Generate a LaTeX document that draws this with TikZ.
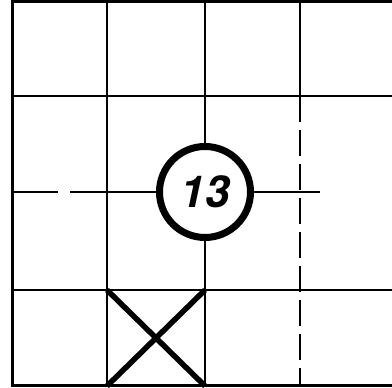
\documentclass[tikz,border=0pt]{standalone}
\usepackage{fontspec}
\setmainfont{TeX Gyre Heros}
\begin{document}
\begin{tikzpicture}[x=1pt,y=1pt,
  grid/.style={line width=2.4pt},
  border/.style={line width=3pt},
  dashline/.style={line width=2.4pt,dash pattern=on 26pt off 8pt},
  cross/.style={line width=5.5pt},
  num/.style={circle,draw,line width=7pt,minimum size=91pt,inner sep=0pt,font=\fontsize{44}{44}\selectfont\bfseries\itshape}]
\useasboundingbox (0,0) rectangle (392,388);
% coordinates (y flipped)
\coordinate (tl) at (12,386);
\coordinate (bl) at (12,2);
\coordinate (tr) at (392,386);
\coordinate (br) at (392,2);
\node[num] (c) at (205,196) {13};
% border
\draw[border] (tr) -- (tl) -- (bl) -- (br);
% horizontal lines
\coordinate (h1l) at (12,292); \coordinate (h1r) at (392,292);
\draw[grid] (h1l) -- (h1r);
\coordinate (h3l) at (12,98); \coordinate (h3r) at (392,98);
\draw[grid] (h3l) -- (h3r);
\coordinate (h2l) at (12,196); \coordinate (h2a) at (58,196); \coordinate (h2b) at (70,196);
\coordinate (h2r) at (320,196);
\draw[grid] (h2l) -- (h2a);
\draw[grid] (h2b) -- (c);
\draw[grid] (c) -- (h2r);
% vertical lines
\coordinate (v1t) at (107,386); \coordinate (v1b) at (107,2);
\draw[grid] (v1t) -- (v1b);
\coordinate (v2t) at (205,386); \coordinate (v2b) at (205,2);
\draw[grid] (v2t) -- (c);
\draw[grid] (c) -- (v2b);
\coordinate (v3t) at (300,386); \coordinate (v3m) at (300,292); \coordinate (v3b) at (300,2);
\draw[grid] (v3t) -- (v3m);
\draw[dashline] (v3m) -- (v3b);
% cross
\coordinate (x1) at (107,98); \coordinate (x2) at (205,98);
\coordinate (x3) at (107,2); \coordinate (x4) at (205,2);
\draw[cross] (x1) -- (x4);
\draw[cross] (x2) -- (x3);
\end{tikzpicture}
\end{document}
